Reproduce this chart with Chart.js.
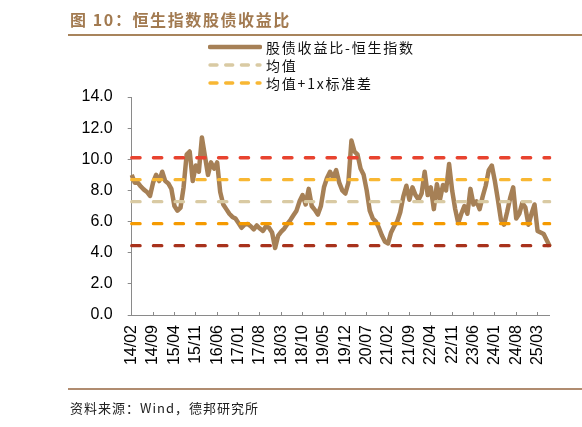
<!DOCTYPE html>
<html>
<head>
<meta charset="utf-8">
<script src="https://cdn.jsdelivr.net/npm/chart.js@4.4.1/dist/chart.umd.min.js"></script>
<style>
  html, body { margin: 0; padding: 0; background: #fff; }
  #wrap { position: relative; width: 582px; height: 427px; overflow: hidden; background: #fff; }
  #wrap canvas { position: absolute; left: 0; top: 0; }
  .title { position: absolute; left: 70px; top: 7px; font: bold 16px "Noto Sans CJK SC", sans-serif; color: #A27A50; letter-spacing: 1.6px; white-space: nowrap; }
  .rule { position: absolute; left: 68px; width: 514px; height: 2px; background: #A8845C; }
  .leg { position: absolute; left: 208px; height: 18px; white-space: nowrap; }
  .leg svg { position: absolute; left: 0; top: 4px; }
  .leg span { position: absolute; left: 58px; top: 0; font: 14px "Noto Sans CJK SC", sans-serif; color: #111; letter-spacing: 1.8px; line-height: 18px; }
  .src { position: absolute; left: 70px; top: 398px; font: 13px "Noto Sans CJK SC", sans-serif; color: #222; letter-spacing: 1px; white-space: nowrap; }
</style>
</head>
<body>
<div id="wrap">
  <canvas id="mychart" width="582" height="427"></canvas>
  <div class="title">图 10：恒生指数股债收益比</div>
  <div class="rule" style="top:34px"></div>
  <div class="leg" style="top:38px"><svg width="54" height="10"><line x1="2" y1="5" x2="52" y2="5" stroke="#A68056" stroke-width="4.6" stroke-linecap="round"/></svg><span>股债收益比-恒生指数</span></div>
  <div class="leg" style="top:56px"><svg width="54" height="10"><line x1="2" y1="5" x2="52" y2="5" stroke="#D9CAA3" stroke-width="3.4" stroke-linecap="round" stroke-dasharray="7 8.7"/></svg><span>均值</span></div>
  <div class="leg" style="top:74px"><svg width="54" height="10"><line x1="2" y1="5" x2="52" y2="5" stroke="#F8B733" stroke-width="3.4" stroke-linecap="round" stroke-dasharray="7 8.7"/></svg><span>均值+1x标准差</span></div>
  <div class="rule" style="top:388px;background:#B08C70"></div>
  <div class="src">资料来源：Wind，德邦研究所</div>
</div>
<script>
// monthly points, 2014/02 .. 2025/07
const categories = [];
for (let y = 2014, m = 2; y < 2025 || (y === 2025 && m <= 7); m++) {
    if (m > 12) { m = 1; y++; }
    categories.push(String(y).slice(2) + '/' + String(m).padStart(2, '0'));
}

const tickLabels = ['14/02','14/09','15/04','15/11','16/06','17/01','17/08','18/03','18/10','19/05',
                    '19/12','20/07','21/02','21/09','22/04','22/11','23/06','24/01','24/08','25/03'];

// 股债收益比-恒生指数
const ratio = [
    9.0, 8.5, 8.5, 8.25, 8.05, 7.9, 7.65, 8.5, 9.0, 8.6,
    9.2, 8.6, 8.45, 8.1, 7.0, 6.7, 6.9, 8.2, 10.3, 10.5,
    8.6, 9.6, 9.2, 11.4, 10.2, 9.0, 9.8, 9.4, 9.8, 7.9,
    7.1, 6.8, 6.5, 6.3, 6.2, 5.9, 5.6, 5.8, 5.85, 5.7,
    5.5, 5.75, 5.55, 5.4, 5.7, 5.6, 5.3, 4.3, 5.1, 5.35,
    5.55, 5.85, 6.1, 6.4, 6.7, 7.3, 7.7, 7.1, 8.1, 7.0,
    6.75, 6.45, 7.0, 8.2, 8.8, 9.2, 8.8, 9.3, 8.5, 8.0,
    7.8, 8.5, 11.2, 10.5, 10.3, 9.4, 9.0, 8.0, 6.7, 6.2,
    6.0, 5.6, 5.1, 4.7, 4.6, 5.3, 5.7, 6.0, 6.6, 7.6,
    8.3, 7.4, 8.2, 7.7, 7.4, 7.8, 9.2, 7.7, 8.2, 6.8,
    8.4, 7.4, 8.35, 8.0, 9.7, 8.0, 6.8, 5.9, 6.5, 7.0,
    6.5, 8.1, 7.1, 7.3, 6.8, 7.6, 8.3, 9.3, 9.6, 8.6,
    7.4, 6.1, 5.8, 6.6, 7.5, 8.2, 6.2, 6.5, 7.2, 6.9,
    5.8, 6.5, 7.1, 5.4, 5.3, 5.2, 4.8, 4.4
];

// reference levels
const meanLevel = 7.28;
const plus1Level = 8.69;
const plus2Level = 10.10;
const minus1Level = 5.865;
const minus2Level = 4.45;

const yTicks = [0, 2, 4, 6, 8, 10, 12, 14];

function flat(v) { return categories.map(() => v); }
function dashed(label, v, color) {
    return {
        label: label, data: flat(v), borderColor: color, borderWidth: 3.3,
        borderDash: [8.4, 13.3], borderCapStyle: 'round', pointRadius: 0, order: 0
    };
}

const axisColor = '#8a8a8a';
const tickFont = { family: '"Liberation Sans", Arial, sans-serif', size: 16 };

const a = document.getElementById('mychart').getContext('2d');
const mychart = new Chart(a, {
    type: 'line',
    data: {
        labels: categories,
        datasets: [
            dashed('均值+2x标准差', plus2Level, '#E8432F'),
            dashed('均值+1x标准差', plus1Level, '#F8B733'),
            dashed('均值', meanLevel, '#D9CAA3'),
            dashed('均值-1x标准差', minus1Level, '#F59A00'),
            dashed('均值-2x标准差', minus2Level, '#A8321C'),
            {
                label: '股债收益比-恒生指数', data: ratio, borderColor: '#A68056',
                borderWidth: 4.5, pointRadius: 0, tension: 0, borderJoinStyle: 'round', order: 1
            }
        ]
    },
    options: {
        responsive: false,
        animation: false,
        layout: { padding: { left: 0, right: 20.5, top: 97, bottom: 52 } },
        plugins: { legend: { display: false }, tooltip: { enabled: false } },
        scales: {
            x: {
                grid: {
                    drawOnChartArea: false, tickLength: -3,
                    color: c => tickLabels.includes(categories[c.index]) ? axisColor : 'rgba(0,0,0,0)'
                },
                border: { color: axisColor, width: 1 },
                ticks: {
                    autoSkip: false, maxRotation: 90, minRotation: 90, padding: 13,
                    color: '#000', font: tickFont,
                    callback: function (v) {
                        const l = this.getLabelForValue(v);
                        return tickLabels.includes(l) ? l : '';
                    }
                },
                afterFit: s => { s.height = 60; }
            },
            y: {
                min: yTicks[0], max: yTicks[yTicks.length - 1],
                afterBuildTicks: s => { s.ticks = yTicks.map(v => ({ value: v })); },
                grid: { drawOnChartArea: false, tickLength: 4, color: axisColor },
                border: { color: axisColor, width: 1 },
                ticks: { padding: 15, color: '#000', font: tickFont, callback: v => v.toFixed(1) },
                afterFit: s => { s.width = 131.7; }
            }
        }
    }
});
</script>
</body>
</html>
